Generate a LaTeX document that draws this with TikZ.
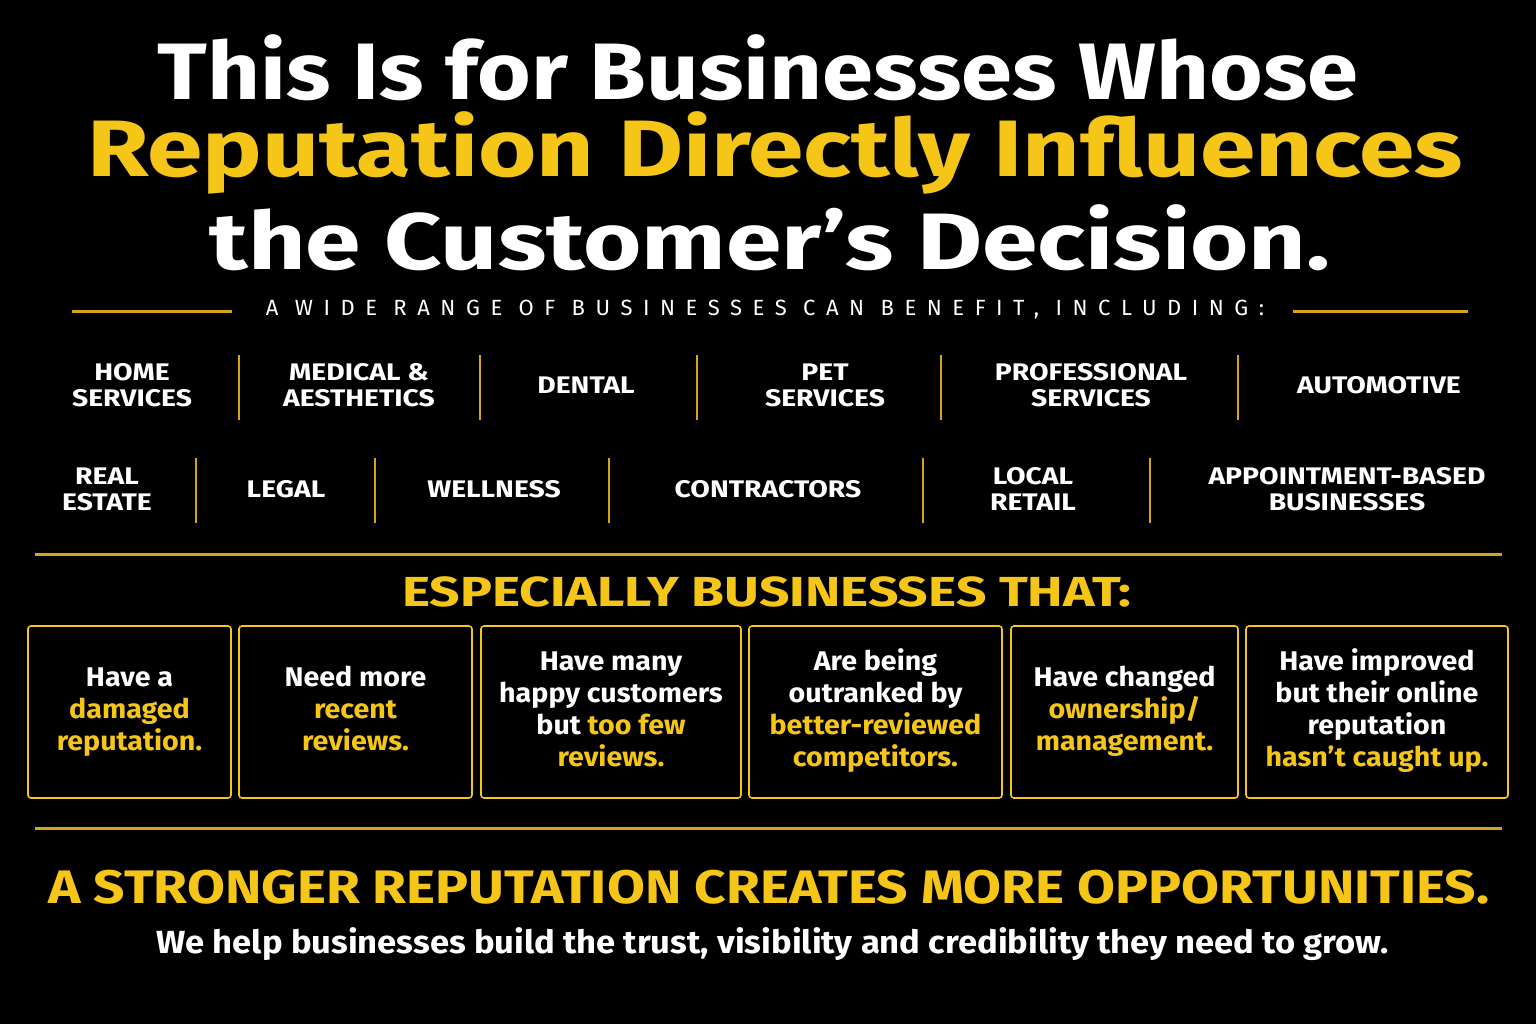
\documentclass[tikz,border=0pt]{standalone}
\usepackage{fontspec}
\setmainfont{Fira Sans}
\usepackage{graphicx}
\definecolor{gold}{HTML}{F5C518}
\definecolor{line}{HTML}{D4A514}
\newcommand{\hs}[2]{\scalebox{#1}[1]{#2}}
\begin{document}
\begin{tikzpicture}[x=1pt,y=-1pt,
  title/.style={font=\fontsize{80}{80}\selectfont\bfseries,inner sep=0},
  cat/.style={font=\fontsize{24}{26}\selectfont\bfseries,text=white,align=center,inner sep=0},
  div/.style={draw=line,line width=2pt},
  box/.style={draw=gold,line width=1.6pt,rounded corners=3pt},
  bt/.style={font=\fontsize{27}{32}\selectfont\bfseries,text=white,align=center,inner sep=0},
  hl/.style={draw=line,line width=3pt}]
\fill[black] (0,0) rectangle (1536,1024);
\useasboundingbox (0,0) rectangle (1536,1024);
\node[title,text=white] (t1) at (758,68) {\hs{1.15}{This Is for Businesses Whose}};
\node[title,text=gold] (t2) at (775,153) {\hs{1.25}{Reputation Directly Influences}};
\node[title,text=white] (t3) at (770,238) {\hs{1.25}{the Customer’s Decision.}};
\node[font=\fontsize{22}{24}\selectfont\addfontfeature{LetterSpace=48},text=white,inner sep=0] (sub) at (765,310) {A WIDE RANGE OF BUSINESSES CAN BENEFIT, INCLUDING:};
\draw[hl] (72,311) -- (232,311);
\draw[hl] (1293,311) -- (1468,311);
\foreach \x/\t [count=\i] in {132/{HOME\\SERVICES},359/{MEDICAL \&\\AESTHETICS},586/{DENTAL},825/{PET\\SERVICES},1091/{PROFESSIONAL\\SERVICES},1379/{AUTOMOTIVE}}
  \node[cat] (ra\i) at (\x,388) {\hs{1.18}{\begin{tabular}{@{}c@{}}\t\end{tabular}}};
\foreach \x in {239,480,697,941,1238} \draw[div] (\x,355) -- (\x,420);
\foreach \x/\t [count=\i] in {107/{REAL\\ESTATE},286/{LEGAL},494/{WELLNESS},768/{CONTRACTORS},1033/{LOCAL\\RETAIL},1347/{APPOINTMENT-BASED\\BUSINESSES}}
  \node[cat] (rb\i) at (\x,492) {\hs{1.18}{\begin{tabular}{@{}c@{}}\t\end{tabular}}};
\foreach \x in {196,375,609,923,1150} \draw[div] (\x,458) -- (\x,523);
\draw[hl] (35,554) -- (1502,554);
\node[font=\fontsize{42}{44}\selectfont\bfseries,text=gold,inner sep=0] (esp) at (767,592) {\hs{1.27}{ESPECIALLY BUSINESSES THAT:}};
\foreach \a/\b/\t [count=\i] in {
 28/231/{Have a\\\textcolor{gold}{damaged}\\\textcolor{gold}{reputation.}},
 239/472/{Need more\\\textcolor{gold}{recent}\\\textcolor{gold}{reviews.}},
 481/741/{Have many\\happy customers\\but \textcolor{gold}{too few}\\\textcolor{gold}{reviews.}},
 749/1002/{Are being\\outranked by\\\textcolor{gold}{better-reviewed}\\\textcolor{gold}{competitors.}},
 1011/1238/{Have changed\\\textcolor{gold}{ownership/}\\\textcolor{gold}{management.}},
 1246/1508/{Have improved\\but their online\\reputation\\\textcolor{gold}{hasn’t caught up.}}}
{
 \draw[box] (\a,626) rectangle (\b,798);
 \node[bt] (b\i) at ({(\a+\b)/2},712) {\hs{1.06}{\begin{tabular}{@{}c@{}}\t\end{tabular}}};
}
\draw[hl] (35,828) -- (1502,828);
\node[font=\fontsize{47}{48}\selectfont\bfseries,text=gold,inner sep=0] (s1) at (769,887) {\hs{1.17}{A STRONGER REPUTATION CREATES MORE OPPORTUNITIES.}};
\node[font=\fontsize{32}{34}\selectfont\bfseries,text=white,inner sep=0] (s2) at (773,944) {\hs{1.08}{We help businesses build the trust, visibility and credibility they need to grow.}};
\end{tikzpicture}
\end{document}
